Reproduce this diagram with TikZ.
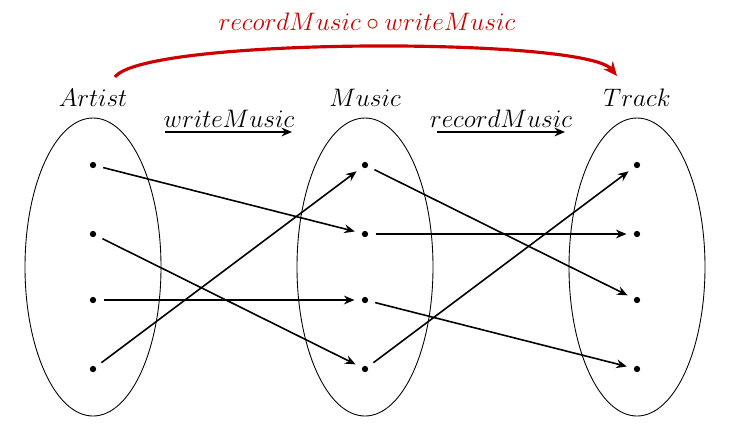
\documentclass[tikz,border=0pt]{standalone}
\usetikzlibrary{shapes.geometric,arrows.meta}
\begin{document}
\begin{tikzpicture}[x=0.02cm,y=-0.02cm,
  setbox/.style={draw,ellipse,line width=0.5pt,minimum width=136*0.02cm,minimum height=298*0.02cm,inner sep=0},
  dot/.style={circle,fill,inner sep=0,minimum size=3.6pt},
  lbl/.style={font=\fontsize{14}{17}\selectfont},
  tip/.style={-{Stealth[length=6pt,width=5pt,inset=2pt]},line width=0.9pt},
  map/.style={tip,shorten >=4pt,shorten <=4pt},
  comp/.style={-{Stealth[length=8pt,width=7pt,inset=2.5pt]},line width=1.8pt,draw={rgb,255:red,204;green,0;blue,0}}]
\useasboundingbox (0,0) rectangle (730,434);
\foreach \n/\x in {A/93,M/365,T/637}{
  \node[setbox] (e\n) at (\x,267) {};
  \foreach \i/\y in {1/165,2/234,3/300,4/369}{
    \node[dot] (\n\i) at (\x,\y) {};
  }
}
\node[lbl] (lA) at (93,98) {$Artist$};
\node[lbl] (lM) at (365,98) {$Music$};
\node[lbl] (lT) at (637,98) {$Track$};
\node[lbl] (wm) at (229,119) {$writeMusic$};
\node[lbl] (rm) at (501,119) {$recordMusic$};
\coordinate (w1) at (165,132); \coordinate (w2) at (292,132);
\coordinate (r1) at (437,132); \coordinate (r2) at (565,132);
\draw[tip] (w1) -- (w2);
\draw[tip] (r1) -- (r2);
\draw[map] (A1) -- (M2);
\draw[map] (A2) -- (M4);
\draw[map] (A3) -- (M3);
\draw[map] (A4) -- (M1);
\draw[map] (M1) -- (T3);
\draw[map] (M2) -- (T2);
\draw[map] (M3) -- (T4);
\draw[map] (M4) -- (T1);
\coordinate (c1) at (115,77);
\coordinate (c2) at (617,76);
\draw[comp] (c1) .. controls (145,37) and (585,37) .. (c2);
\node[lbl,text={rgb,255:red,204;green,0;blue,0}] (cl) at (367,22) {$recordMusic\circ writeMusic$};
\end{tikzpicture}
\end{document}
